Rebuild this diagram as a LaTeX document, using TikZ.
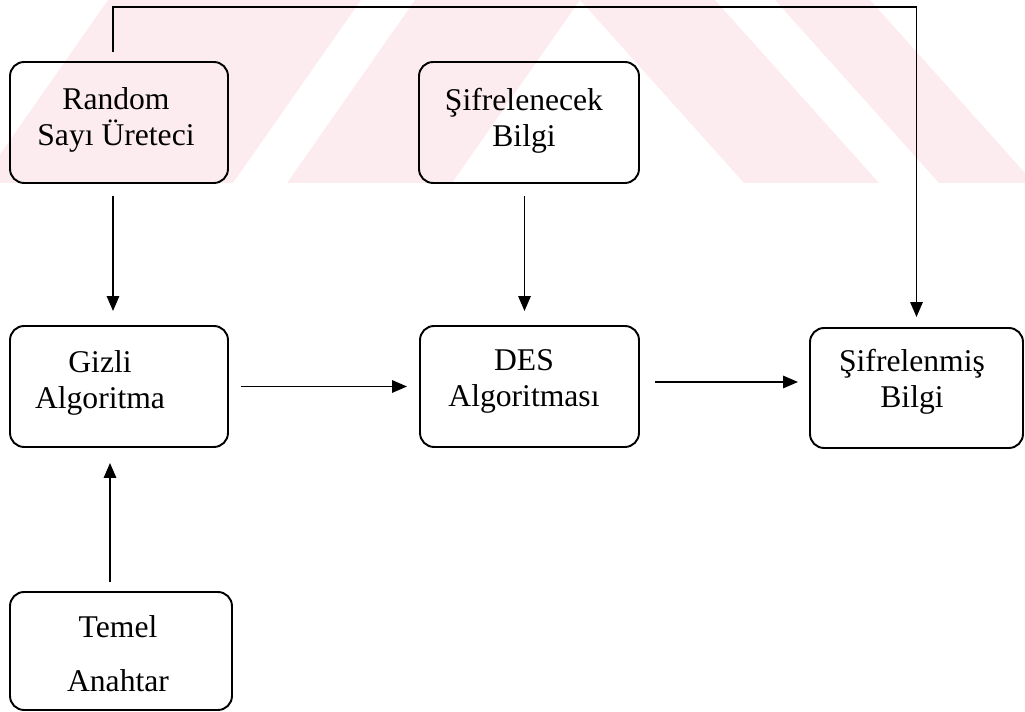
\documentclass[tikz,border=0pt]{standalone}
\usepackage{fontspec}
\setmainfont{Liberation Serif}
\usetikzlibrary{arrows.meta,positioning,calc}
\definecolor{wmpink}{RGB}{253,236,239}

\begin{document}
\begin{tikzpicture}[x=0.02cm,y=-0.02cm,
  >={Triangle[length=8.5pt,width=7pt]},
  box/.style={draw, line width=1.1pt, rounded corners=8pt,
    minimum width=4.36cm, minimum height=2.42cm, inner sep=0pt},
  lbl/.style={font=\fontsize{18}{20.5}\selectfont, align=center, inner sep=0pt},
  flow/.style={->, line width=1.1pt}]

  \useasboundingbox (0,0) rectangle (1025,712);

  %% ===== WATERMARK (faint stripes, top part) =====
  \fill[wmpink] (-20,183) -- (233,183) -- (361,0) -- (108,0) -- cycle;
  \fill[wmpink] (287,183) -- (452,183) -- (580,0) -- (415,0) -- cycle;
  \fill[wmpink] (580,0) -- (715,0) -- (879,183) -- (744,183) -- cycle;
  \fill[wmpink] (775,0) -- (870,0) -- (1034,183) -- (939,183) -- cycle;

  %% ===== BOXES =====
  \node[box] (rng)    at (119,122.5) {};
  \node[box, minimum width=4.4cm] (plain) at (529,122.5) {};
  \node[box] (gizli)  at (119,386.5) {};
  \node[box, minimum width=4.38cm] (des) at (529.5,386.5) {};
  \node[box, minimum width=4.26cm, minimum height=2.4cm] (cipher) at (916.5,388) {};
  \node[box, minimum width=4.44cm, minimum height=2.36cm] (temel) at (121,651) {};

  % Labels
  \node[lbl] (rng-t)    at (116,120)   {Random\\Sayı Üreteci};
  \node[lbl] (plain-t)  at (524,120.5) {Şifrelenecek\\Bilgi};
  \node[lbl] (gizli-t)  at (100,382.5) {Gizli\\Algoritma};
  \node[lbl] (des-t)    at (524,381.5) {DES\\Algoritması};
  \node[lbl] (cipher-t) at (912,382)   {Şifrelenmiş\\Bilgi};
  \node[lbl] (temel-t)  at (118,653.5) {Temel\\[10.5pt]Anahtar};

  %% ===== CONNECTORS =====
  \coordinate (bus) at (916.5,7);
  \draw[flow, shorten <=0.18cm, shorten >=0.2cm]
    ([xshift=-0.12cm]rng.north) |- (bus) -- (cipher.north);

  \draw[flow, shorten <=0.24cm, shorten >=0.28cm]
    ([xshift=-0.12cm]rng.south) -- ([xshift=-0.12cm]gizli.north);
  \draw[flow, shorten <=0.24cm, shorten >=0.28cm]
    ([xshift=-0.09cm]plain.south) -- ([xshift=-0.09cm]plain.south |- des.north);

  \draw[flow, shorten <=0.24cm, shorten >=0.24cm] (gizli.east) -- (des.west);
  \draw[flow, shorten <=0.3cm, shorten >=0.22cm]
    ([yshift=0.09cm]des.east) -- ([yshift=0.09cm]des.east -| cipher.west);

  \draw[flow, shorten <=0.18cm, shorten >=0.3cm]
    ([xshift=-0.22cm]temel.north) -- ([xshift=-0.22cm]temel.north |- gizli.south);

\end{tikzpicture}
\end{document}
